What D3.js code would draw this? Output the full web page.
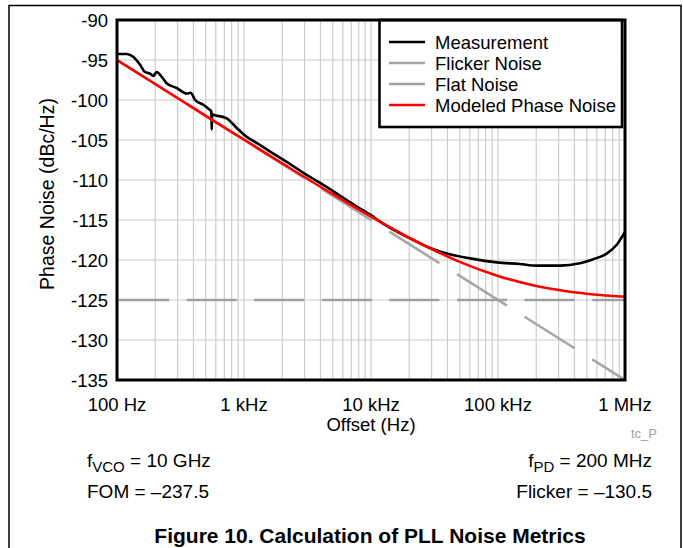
<!DOCTYPE html>
<html>
<head>
<meta charset="utf-8">
<script src="https://cdn.jsdelivr.net/npm/d3@7"></script>
<style>
  html, body { margin: 0; padding: 0; background: #fff; }
  svg { display: block; font-family: "Liberation Sans", Arial, sans-serif; }
</style>
</head>
<body>
<svg id="chart" width="683" height="548"></svg>
<script>
// ---------------- data ----------------
const xTickValues = [100, 1e3, 1e4, 1e5, 1e6];
const xTickLabels = ["100 Hz", "1 kHz", "10 kHz", "100 kHz", "1 MHz"];
const yTickValues = [-90, -95, -100, -105, -110, -115, -120, -125, -130, -135];

const measFreq = [100, 102, 119, 134, 152, 166, 182, 193, 205, 225, 246, 295, 354, 380, 412, 478, 540, 553, 557, 562, 590, 731, 876, 1049,
  1300, 1700, 2200, 3000, 4000, 5500, 7500, 10000, 11780, 20300, 29200, 39500, 60200, 97900, 149000, 202000, 308000, 442000, 563000, 718000, 861000, 1000000];
const measDb = [-94.3, -94.25, -94.25, -94.6, -95.6, -96.5, -96.7, -97.0, -96.5, -97.1, -97.9, -98.5, -99.2, -99.1, -100.0, -100.6, -101.25, -101.4, -103.7, -101.8, -101.9, -102.3, -103.5, -104.6,
  -105.5, -106.7, -107.8, -109.2, -110.4, -111.8, -113.2, -114.4, -115.2, -117.3, -118.5, -119.2, -119.8, -120.3, -120.5, -120.7, -120.7, -120.4, -119.9, -119.2, -118.1, -116.5];

const flickerFreq = [100, 1e6];
const flickerDb = [-95, -135];

const flatFreq = [100, 1e6];
const flatDb = [-125, -125];

const modelFreq = [100, 200, 500, 1000, 2000, 5000, 10000, 20000, 30000, 50000, 100000, 200000, 300000, 500000, 1000000];
const modelDb = [-95.0, -98.0, -101.98, -104.96, -107.92, -111.78, -114.59, -117.22, -118.63, -120.23, -121.99, -123.24, -123.75, -124.21, -124.59];

const legendNames = ["Measurement", "Flicker Noise", "Flat Noise", "Modeled Phase Noise"];
const legendColors = ["#000000", "#a6a6a6", "#a0a0a0", "#ff0000"];

// ---------------- layout ----------------
const svg = d3.select("#chart");
const L = 117, R = 625, T = 20, B = 380;

const x = d3.scaleLog().domain([100, 1e6]).range([L, R]);
const y = d3.scaleLinear().domain([-135, -90]).range([B, T]);

svg.append("rect").attr("width", 683).attr("height", 548).attr("fill", "#fff");

// outer frame
svg.append("path").attr("d", "M9,548V5.5H681V548").attr("fill", "none").attr("stroke", "#000").attr("stroke-width", 1.5);

// grid
const gridG = svg.append("g");
const minorX = [];
for (let e = 2; e <= 5; e++) for (let k = 1; k <= 9; k++) minorX.push(k * Math.pow(10, e));
minorX.push(1e6);
gridG.selectAll("line.vx").data(minorX).join("line")
  .attr("x1", d => x(d)).attr("x2", d => x(d)).attr("y1", T).attr("y2", B)
  .attr("stroke", "#cccccc").attr("stroke-width", 1.2);
gridG.selectAll("line.hy").data(yTickValues).join("line")
  .attr("x1", L).attr("x2", R).attr("y1", d => y(d)).attr("y2", d => y(d))
  .attr("stroke", "#cccccc").attr("stroke-width", 1.2);

// clip
svg.append("clipPath").attr("id", "clip").append("rect").attr("x", L).attr("y", T).attr("width", R - L).attr("height", B - T);
const plotG = svg.append("g").attr("clip-path", "url(#clip)");

const lineGen = d3.line().x(d => x(d[0])).y(d => y(d[1]));
const zip = (a, b) => a.map((v, i) => [v, b[i]]);

// measurement
plotG.append("path").datum(zip(measFreq, measDb))
  .attr("d", lineGen.curve(d3.curveMonotoneX))
  .attr("fill", "none").attr("stroke", legendColors[0]).attr("stroke-width", 2.6).attr("stroke-linejoin", "round");

// flicker (dashes aligned with flat dashes in x projection)
const fl = zip(flickerFreq, flickerDb);
const sl = Math.hypot(x(fl[1][0]) - x(fl[0][0]), y(fl[1][1]) - y(fl[0][1])) / (x(fl[1][0]) - x(fl[0][0]));
plotG.append("path").datum(fl)
  .attr("d", lineGen.curve(d3.curveLinear))
  .attr("fill", "none").attr("stroke", legendColors[1]).attr("stroke-width", 2.6)
  .attr("stroke-dasharray", `${50 * sl} ${17.6 * sl}`).attr("stroke-dashoffset", 65.6 * sl);

// flat
plotG.append("path").datum(zip(flatFreq, flatDb))
  .attr("d", lineGen.curve(d3.curveLinear))
  .attr("fill", "none").attr("stroke", legendColors[2]).attr("stroke-width", 2.6)
  .attr("stroke-dasharray", "50 17.6").attr("stroke-dashoffset", 65.6);

// modeled
plotG.append("path").datum(zip(modelFreq, modelDb))
  .attr("d", lineGen.curve(d3.curveMonotoneX))
  .attr("fill", "none").attr("stroke", legendColors[3]).attr("stroke-width", 2.6);

// legend
const lg = svg.append("g");
lg.append("rect").attr("x", 379.5).attr("y", 20).attr("width", 242.5).attr("height", 107)
  .attr("fill", "#fff").attr("stroke", "#000").attr("stroke-width", 2.6);
legendNames.forEach((n, i) => {
  const cy = 42 + i * 21;
  lg.append("line").attr("x1", 389).attr("x2", 425).attr("y1", cy).attr("y2", cy)
    .attr("stroke", legendColors[i]).attr("stroke-width", 2.6);
  lg.append("text").attr("x", 435).attr("y", cy).attr("dy", "0.36em")
    .attr("font-size", 18.5).attr("fill", "#000").text(n);
});

// plot border
svg.append("rect").attr("x", L).attr("y", T).attr("width", R - L).attr("height", B - T)
  .attr("fill", "none").attr("stroke", "#000").attr("stroke-width", 3);

// y tick labels
svg.selectAll("text.yt").data(yTickValues).join("text")
  .attr("x", 108).attr("y", d => y(d)).attr("dy", "0.36em")
  .attr("text-anchor", "end").attr("font-size", 18.5).text(d => d);

// x tick labels
svg.selectAll("text.xt").data(xTickValues).join("text")
  .attr("x", d => x(d)).attr("y", 411)
  .attr("text-anchor", "middle").attr("font-size", 18.5).text((d, i) => xTickLabels[i]);

// axis titles
svg.append("text").attr("x", 371).attr("y", 431).attr("text-anchor", "middle").attr("font-size", 18.5).text("Offset (Hz)");
svg.append("text").attr("transform", "translate(54,194) rotate(-90)").attr("text-anchor", "middle").attr("font-size", 19.5).text("Phase Noise (dBc/Hz)");

svg.append("text").attr("x", 657).attr("y", 438).attr("text-anchor", "end").attr("font-size", 13).attr("fill", "#a0a0a0").text("tc_P");

// annotations
const ann = (tx, ty, anchor, parts) => {
  const t = svg.append("text").attr("x", tx).attr("y", ty).attr("text-anchor", anchor).attr("font-size", 19);
  parts.forEach(p => {
    const s = t.append("tspan").text(p.t);
    if (p.sub) s.attr("dy", 5).attr("font-size", 15);
    if (p.back) s.attr("dy", -5);
  });
};
ann(87, 467, "start", [{ t: "f" }, { t: "VCO", sub: true }, { t: " = 10 GHz", back: true }]);
ann(87, 498, "start", [{ t: "FOM = \u2013237.5" }]);
ann(652, 467, "end", [{ t: "f" }, { t: "PD", sub: true }, { t: " = 200 MHz", back: true }]);
ann(652, 498, "end", [{ t: "Flicker = \u2013130.5" }]);

svg.append("text").attr("x", 370).attr("y", 543).attr("text-anchor", "middle")
  .attr("font-size", 21).attr("font-weight", "bold").text("Figure 10. Calculation of PLL Noise Metrics");
</script>
</body>
</html>
